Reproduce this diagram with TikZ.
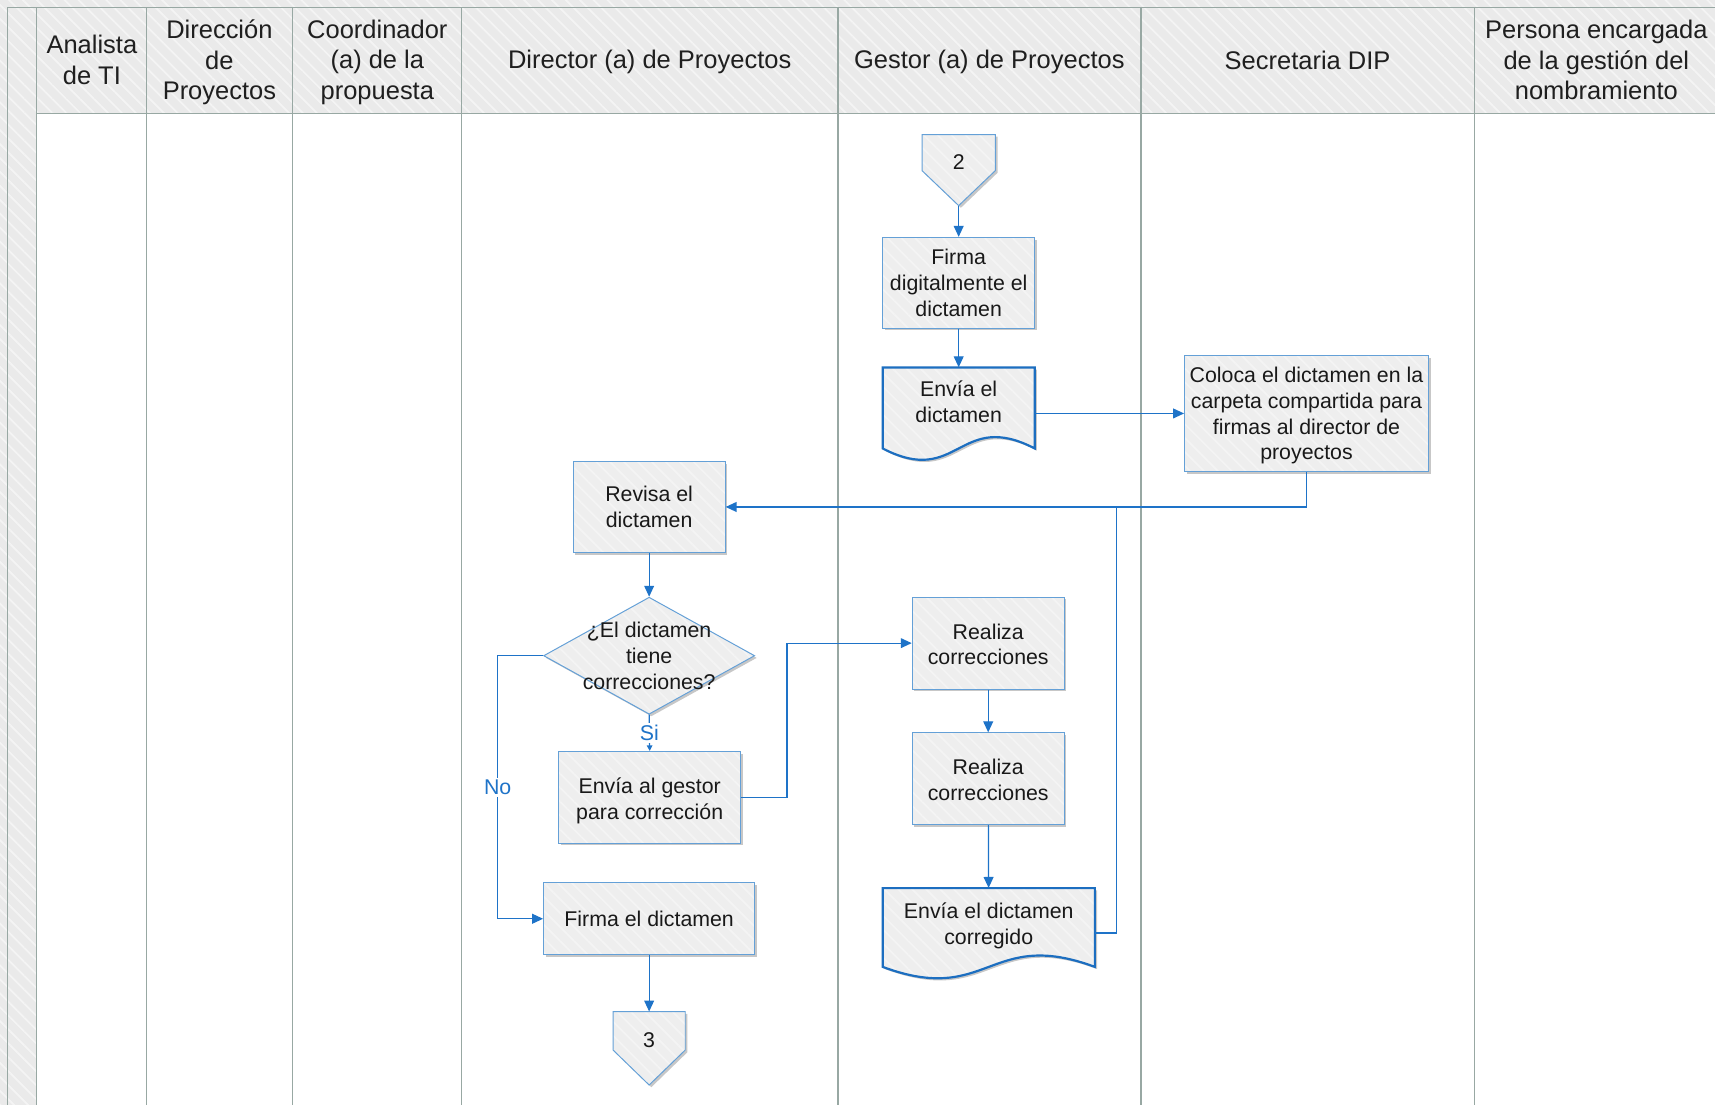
\documentclass[tikz,border=0pt]{standalone}
\usepackage{fontspec}
\setmainfont{Liberation Sans}
\usetikzlibrary{arrows.meta,shapes.geometric,shadows,patterns.meta,calc}
\definecolor{lanel}{RGB}{152,168,163}
\definecolor{hdrfill}{RGB}{234,234,234}
\definecolor{hatchc}{RGB}{244,244,244}
\definecolor{boxfill}{RGB}{238,238,238}
\definecolor{boxblue}{RGB}{100,160,215}
\definecolor{docblue}{RGB}{28,110,192}
\definecolor{arrblue}{RGB}{30,115,200}
\newcommand{\hdrfont}{\fontsize{23.3}{28}\selectfont}
\newcommand{\bodyfont}{\fontsize{19.5}{23.5}\selectfont}
\begin{document}
\begin{tikzpicture}[x=1pt,y=-1pt,
  lane/.style={draw=lanel,line width=1.3pt},
  hdr/.style={align=center,font=\hdrfont,text=black!88,inner sep=0pt},
  shad/.style={drop shadow={shadow xshift=2pt,shadow yshift=-2pt,opacity=0.22,fill=black}},
  boxbg/.style={shad,preaction={fill=boxfill},preaction={pattern={Lines[angle=-45,distance=9pt,line width=1.6pt]},pattern color=hatchc}},
  proc/.style={rectangle,boxbg,draw=boxblue,line width=0.9pt,align=center,inner sep=0pt,font=\bodyfont,text=black!90},
  docshape/.style={boxbg,draw=docblue,line width=2pt},
  pageshape/.style={boxbg,draw=boxblue,line width=0.9pt},
  txt/.style={align=center,inner sep=0pt,font=\bodyfont,text=black!90},
  decision/.style={diamond,boxbg,draw=boxblue,line width=0.9pt,inner sep=0pt,minimum width=193pt,minimum height=107pt},
  conn/.style={draw=arrblue,line width=1.1pt},
  arr/.style={conn,-{Triangle[length=10pt,width=9pt]}},
  arrs/.style={conn,-{Triangle[length=5pt,width=5pt]}},
  lbl/.style={fill=white,text=arrblue,font=\bodyfont,inner sep=2pt}
]
\useasboundingbox (0,0) rectangle (1568,1010);
% background
\fill[hdrfill] (0,0) rectangle (1568,1010);
\fill[pattern={Lines[angle=-45,distance=9pt,line width=1.6pt]},pattern color=hatchc] (0,0) rectangle (1568,1010);
\fill[white] (33.5,103.6) rectangle (1568,1010);
% lane lines
\draw[lane] (6.7,6.7) -- (1568,6.7);
\draw[lane] (6.7,6.7) -- (6.7,1010);
\draw[lane] (33.5,6.7) -- (33.5,1010);
\draw[lane] (33.5,103.6) -- (1568,103.6);
\foreach \xx in {134,267.3,422,766,1043,1348} \draw[lane] (\xx,6.7) -- (\xx,1010);
% headers
\node[hdr] (h1) at (84,55) {Analista\\de TI};
\node[hdr] (h2) at (200.6,57) {Dirección\\de\\Proyectos};
\node[hdr] (h3) at (345,57) {Coordinador\\(a) de la\\propuesta};
\node[hdr] (h4) at (594,57) {Director (a) de Proyectos};
\node[hdr] (h5) at (904.5,57) {Gestor (a) de Proyectos};
\node[hdr] (h6) at (1195.5,55) {Secretaria DIP};
\node[hdr] (h7) at (1459.5,55) {Persona encargada\\de la gestión del\\nombramiento};
% off-page 2
\draw[pageshape] (843,123) -- (910,123) -- (910,156) -- (876.5,188) -- (843,156) -- cycle;
\node[txt] (op2) at (876.5,148) {2};
\coordinate (op2tip) at (876.5,188);
% process boxes
\node[proc,minimum width=139pt,minimum height=83pt] (firdig) at (876.5,258.5) {Firma\\digitalmente el\\dictamen};
\draw[docshape] (807,336) -- (946,336) -- (946,410) .. controls (876.5,374) and (876.5,446) .. (807,410) -- cycle;
\node[txt,minimum width=139pt,minimum height=62pt] (env1) at (876.5,367) {Envía el\\dictamen};
\node[proc,minimum width=223pt,minimum height=106pt] (col) at (1194.5,378) {};
\node[txt] (coltext) at (1194.5,380) {Coloca el dictamen en la\\carpeta compartida para\\firmas al director de\\proyectos};
\node[proc,minimum width=139pt,minimum height=83pt] (rev) at (593.5,463.5) {Revisa el\\dictamen};
\node[decision] (dia) at (593.5,599.5) {};
\node[txt] (diatext) at (dia.center) {¿El dictamen\\tiene\\correcciones?};
\node[proc,minimum width=166pt,minimum height=84pt] (envg) at (594,729) {};
\node[txt] (envgtext) at (594,732) {Envía al gestor\\para corrección};
\node[proc,minimum width=193pt,minimum height=66pt] (fir) at (593.5,840) {Firma el dictamen};
\draw[pageshape] (560.5,925) -- (626.5,925) -- (626.5,960) -- (593.5,992) -- (560.5,960) -- cycle;
\node[txt,minimum width=66pt,minimum height=52pt] (op3) at (593.5,951) {3};
\node[proc,minimum width=139pt,minimum height=84pt] (rea1) at (903.5,588) {};
\node[txt] (rea1text) at (903.5,589) {Realiza\\correcciones};
\node[proc,minimum width=139pt,minimum height=84pt] (rea2) at (903.5,712) {};
\node[txt] (rea2text) at (903.5,713) {Realiza\\correcciones};
\draw[docshape] (807,812) -- (1001,812) -- (1001,884) .. controls (904,848) and (904,920) .. (807,884) -- cycle;
\node[txt,minimum width=194pt,minimum height=64pt] (corr) at (904,844) {};
\node[txt] (corrtext) at (904,846.5) {Envía el dictamen\\corregido};
% connectors
\coordinate (jn) at (1021,463.5);
\coordinate (nocorner) at (455,599.5);
\draw[arr] (op2tip) -- (firdig);
\draw[arr] (firdig) -- (env1);
\draw[arr] (env1.east |- col) -- (col);
\draw[arr] (col.south) |- (rev.east);
\draw[conn] ($(corr.east)+(0,9)$) -| (jn);
\draw[arr] (rev) -- (dia);
\draw[arrs] (dia.south) -- node[lbl] {Si} (envg.north);
\draw[arr] (dia.west) -- (nocorner) |- node[pos=0.25,lbl] {No} (fir.west);
\draw[arr] (envg.east) -- ++(42,0) |- (rea1.west);
\draw[arr] (rea1) -- (rea2);
\draw[arr] (rea2) -- (corr);
\draw[arr] (fir) -- (op3);
\end{tikzpicture}
\end{document}
